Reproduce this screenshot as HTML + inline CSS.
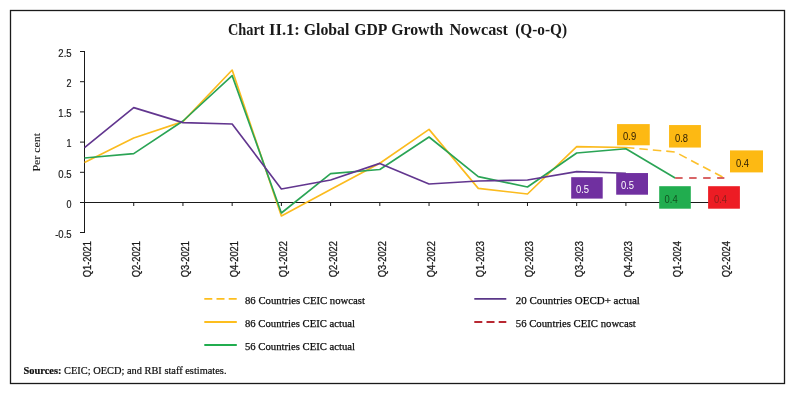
<!DOCTYPE html>
<html><head><meta charset="utf-8"><title>Chart II.1: Global GDP Growth Nowcast (Q-o-Q)</title>
<style>
html,body{margin:0;padding:0;background:#fff;}
svg{display:block;}
.sans{font-family:"Liberation Sans",sans-serif;}
.serif{font-family:"Liberation Serif",serif;}
</style></head><body>
<svg width="800" height="404" viewBox="0 0 800 404">
<rect x="0" y="0" width="800" height="404" fill="#fff"/>
<rect x="10.5" y="10.5" width="774" height="373" fill="none" stroke="#1a1a1a" stroke-width="1.3"/>
<text class="serif" y="35" font-size="16.6" font-weight="bold" fill="#1a1a1a"><tspan x="227.9" textLength="36.7" lengthAdjust="spacingAndGlyphs">Chart</tspan> <tspan x="269" textLength="30.9" lengthAdjust="spacingAndGlyphs">II.1:</tspan> <tspan x="303.7" textLength="45.7" lengthAdjust="spacingAndGlyphs">Global</tspan> <tspan x="354.3" textLength="32.2" lengthAdjust="spacingAndGlyphs">GDP</tspan> <tspan x="391.2" textLength="52.2" lengthAdjust="spacingAndGlyphs">Growth</tspan> <tspan x="449.4" textLength="58.6" lengthAdjust="spacingAndGlyphs">Nowcast</tspan> <tspan x="515.2" textLength="51.8" lengthAdjust="spacingAndGlyphs">(Q-o-Q)</tspan></text>

<g stroke="#1a1a1a" stroke-width="1" fill="none">
<line x1="84.5" y1="51" x2="84.5" y2="233"/>
<line x1="84.5" y1="202.5" x2="724.36" y2="202.5"/>
<line x1="80" y1="51.5" x2="84.5" y2="51.5"/>
<line x1="80" y1="81.7" x2="84.5" y2="81.7"/>
<line x1="80" y1="111.9" x2="84.5" y2="111.9"/>
<line x1="80" y1="142.1" x2="84.5" y2="142.1"/>
<line x1="80" y1="172.3" x2="84.5" y2="172.3"/>
<line x1="80" y1="202.5" x2="84.5" y2="202.5"/>
<line x1="80" y1="232.5" x2="84.5" y2="232.5"/>
<line x1="133.72" y1="202.5" x2="133.72" y2="206"/>
<line x1="182.94" y1="202.5" x2="182.94" y2="206"/>
<line x1="232.16" y1="202.5" x2="232.16" y2="206"/>
<line x1="281.38" y1="202.5" x2="281.38" y2="206"/>
<line x1="330.6" y1="202.5" x2="330.6" y2="206"/>
<line x1="379.82" y1="202.5" x2="379.82" y2="206"/>
<line x1="429.04" y1="202.5" x2="429.04" y2="206"/>
<line x1="478.26" y1="202.5" x2="478.26" y2="206"/>
<line x1="527.48" y1="202.5" x2="527.48" y2="206"/>
<line x1="576.7" y1="202.5" x2="576.7" y2="206"/>
<line x1="625.92" y1="202.5" x2="625.92" y2="206"/>
<line x1="675.14" y1="202.5" x2="675.14" y2="206"/>
<line x1="724.36" y1="202.5" x2="724.36" y2="206"/>
</g>
<g class="sans" font-size="11.2" fill="#1a1a1a" stroke="#1a1a1a" stroke-width="0.2">
<text x="58.349999999999994" y="56.7" textLength="13.25" lengthAdjust="spacingAndGlyphs">2.5</text>
<text x="66.6" y="86.9" textLength="5.0" lengthAdjust="spacingAndGlyphs">2</text>
<text x="58.349999999999994" y="117.10000000000001" textLength="13.25" lengthAdjust="spacingAndGlyphs">1.5</text>
<text x="66.6" y="147.29999999999998" textLength="5.0" lengthAdjust="spacingAndGlyphs">1</text>
<text x="58.349999999999994" y="177.5" textLength="13.25" lengthAdjust="spacingAndGlyphs">0.5</text>
<text x="66.6" y="207.7" textLength="5.0" lengthAdjust="spacingAndGlyphs">0</text>
<text x="55.199999999999996" y="237.7" textLength="16.4" lengthAdjust="spacingAndGlyphs">-0.5</text>
</g>
<text class="serif" font-size="11" fill="#1a1a1a" stroke="#1a1a1a" stroke-width="0.08" transform="translate(40.2,171.6) rotate(-90)" textLength="38.6" lengthAdjust="spacingAndGlyphs">Per cent</text>
<g class="sans" font-size="10.4" fill="#1a1a1a" stroke="#1a1a1a" stroke-width="0.3">
<text transform="translate(90.5,277.3) rotate(-90)" textLength="36.3" lengthAdjust="spacingAndGlyphs">Q1-2021</text>
<text transform="translate(139.72,277.3) rotate(-90)" textLength="36.3" lengthAdjust="spacingAndGlyphs">Q2-2021</text>
<text transform="translate(188.94,277.3) rotate(-90)" textLength="36.3" lengthAdjust="spacingAndGlyphs">Q3-2021</text>
<text transform="translate(238.16,277.3) rotate(-90)" textLength="36.3" lengthAdjust="spacingAndGlyphs">Q4-2021</text>
<text transform="translate(287.38,277.3) rotate(-90)" textLength="36.3" lengthAdjust="spacingAndGlyphs">Q1-2022</text>
<text transform="translate(336.6,277.3) rotate(-90)" textLength="36.3" lengthAdjust="spacingAndGlyphs">Q2-2022</text>
<text transform="translate(385.82,277.3) rotate(-90)" textLength="36.3" lengthAdjust="spacingAndGlyphs">Q3-2022</text>
<text transform="translate(435.04,277.3) rotate(-90)" textLength="36.3" lengthAdjust="spacingAndGlyphs">Q4-2022</text>
<text transform="translate(484.26,277.3) rotate(-90)" textLength="36.3" lengthAdjust="spacingAndGlyphs">Q1-2023</text>
<text transform="translate(533.48,277.3) rotate(-90)" textLength="36.3" lengthAdjust="spacingAndGlyphs">Q2-2023</text>
<text transform="translate(582.7,277.3) rotate(-90)" textLength="36.3" lengthAdjust="spacingAndGlyphs">Q3-2023</text>
<text transform="translate(631.92,277.3) rotate(-90)" textLength="36.3" lengthAdjust="spacingAndGlyphs">Q4-2023</text>
<text transform="translate(681.14,277.3) rotate(-90)" textLength="36.3" lengthAdjust="spacingAndGlyphs">Q1-2024</text>
<text transform="translate(730.36,277.3) rotate(-90)" textLength="36.3" lengthAdjust="spacingAndGlyphs">Q2-2024</text>
</g>
<g fill="none" stroke-width="1.65" stroke-linejoin="round" stroke-linecap="butt">
<polyline stroke="#fbbb1e" points="84.5,162.4 133.72,138 182.94,121.6 232.16,70 281.38,216 330.6,189.6 379.82,163.3 429.04,129.4 478.26,188.4 527.48,194 576.7,146.6 625.92,147.5"/>
<polyline stroke="#fcc02c" stroke-dasharray="8.5 5" points="625.92,147.5 675.14,152 724.36,178"/>
<polyline stroke="#2aa455" points="84.5,158 133.72,153.6 182.94,121 232.16,75.6 281.38,213 330.6,173.6 379.82,169.5 429.04,137 478.26,176.6 527.48,187 576.7,153 625.92,148.7 675.14,178"/>
<polyline stroke="#62368f" points="84.5,147.6 133.72,107.6 182.94,122.6 232.16,124 281.38,189 330.6,180 379.82,163.4 429.04,184 478.26,181 527.48,180 576.7,171.6 625.92,173.2"/>
<polyline stroke="#cc3336" stroke-dasharray="7.5 6.5" points="675.14,178 724.36,178"/>
</g>
<rect x="617.05" y="124.1" width="32.7" height="21.2" fill="#fdb913"/>
<text class="sans" font-size="10.1" fill="#2a1c05" x="623.05" y="140.1" textLength="13.1" lengthAdjust="spacingAndGlyphs">0.9</text>
<rect x="669.05" y="125.05" width="31.85" height="22.5" fill="#fdb913"/>
<text class="sans" font-size="10.1" fill="#2a1c05" x="674.95" y="141.9" textLength="13.1" lengthAdjust="spacingAndGlyphs">0.8</text>
<rect x="730" y="150.4" width="33" height="22" fill="#fdb913"/>
<text class="sans" font-size="10.1" fill="#2a1c05" x="736" y="167.2" textLength="13.1" lengthAdjust="spacingAndGlyphs">0.4</text>
<rect x="571.2" y="177.2" width="31.5" height="21.4" fill="#7030a0"/>
<text class="sans" font-size="10.1" fill="#fff" x="575.9" y="193.3" textLength="13.1" lengthAdjust="spacingAndGlyphs">0.5</text>
<rect x="616.2" y="173.05" width="31.8" height="21.65" fill="#7030a0"/>
<text class="sans" font-size="10.1" fill="#fff" x="620.9" y="189.4" textLength="13.1" lengthAdjust="spacingAndGlyphs">0.5</text>
<rect x="659.2" y="186.2" width="31.6" height="22.5" fill="#21ad4f"/>
<text class="sans" font-size="10.1" fill="#12501f" x="664.6" y="203.05" textLength="13.1" lengthAdjust="spacingAndGlyphs">0.4</text>
<rect x="708.1" y="186.2" width="31.8" height="22.5" fill="#ed1c24"/>
<text class="sans" font-size="10.1" fill="#8c1f1a" x="714.0" y="203.05" textLength="13.1" lengthAdjust="spacingAndGlyphs">0.4</text>
<g fill="none" stroke-width="1.8">
<line x1="204.3" y1="298.8" x2="236.8" y2="298.8" stroke="#fdbe1e" stroke-dasharray="8 4.2"/>
<line x1="204.3" y1="322" x2="236.8" y2="322" stroke="#fdbe1e"/>
<line x1="204.3" y1="345" x2="236.8" y2="345" stroke="#21ad4f"/>
<line x1="474.3" y1="298.8" x2="506.3" y2="298.8" stroke="#5a3788"/>
<line x1="474.3" y1="322" x2="506.3" y2="322" stroke="#b82832" stroke-dasharray="8 4.2"/>
</g>
<g class="serif" font-size="10.8" fill="#0d0d0d" stroke="#0d0d0d" stroke-width="0.25">
<text x="245" y="303.7" textLength="120" lengthAdjust="spacingAndGlyphs">86 Countries CEIC nowcast</text>
<text x="245" y="326.8" textLength="110" lengthAdjust="spacingAndGlyphs">86 Countries CEIC actual</text>
<text x="245" y="349.6" textLength="110" lengthAdjust="spacingAndGlyphs">56 Countries CEIC actual</text>
<text x="515.8" y="303.7" textLength="124" lengthAdjust="spacingAndGlyphs">20 Countries OECD+ actual</text>
<text x="515.8" y="326.8" textLength="120" lengthAdjust="spacingAndGlyphs">56 Countries CEIC nowcast</text>
</g>
<text class="serif" font-size="10.2" fill="#0d0d0d" stroke="#0d0d0d" stroke-width="0.2" x="23.5" y="374" textLength="203" lengthAdjust="spacingAndGlyphs"><tspan font-weight="bold">Sources:</tspan> CEIC; OECD; and RBI staff estimates.</text>
</svg></body></html>
